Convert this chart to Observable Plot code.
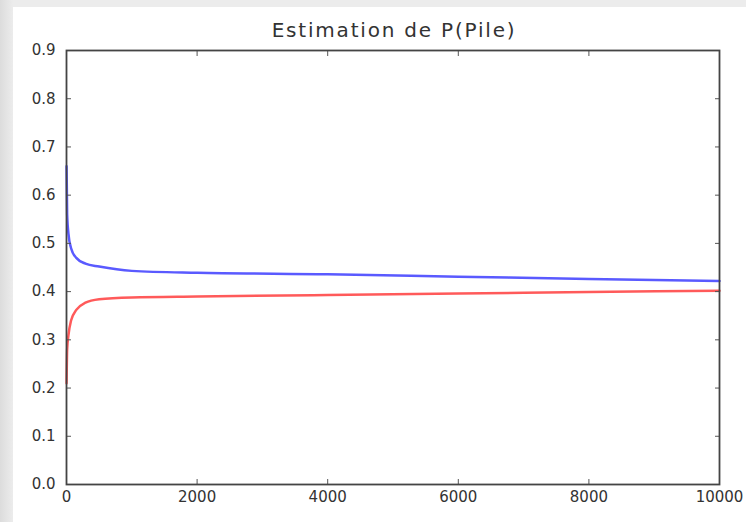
<!DOCTYPE html>
<html>
<head>
<meta charset="utf-8">
<script src="https://cdn.jsdelivr.net/npm/d3@7"></script>
<script src="https://cdn.jsdelivr.net/npm/@observablehq/plot@0.6"></script>
<style>
  html, body { margin: 0; padding: 0; background: #ebebeb; }
  #wrap { width: 746px; height: 522px; box-sizing: border-box; padding-left: 13px; padding-top: 7px;
          background: linear-gradient(90deg, #dcdcdc 0px, #ececec 13px); }
  #wrap svg { background: #ffffff; display: block; }
  #wrap svg g[aria-label="text"] text { letter-spacing: 1.8px; }
</style>
</head>
<body>
<div id="wrap"></div>
<script>
const title = "Estimation de P(Pile)";
const xs    = [1, 10, 30, 70, 150, 290, 500, 1000, 2000, 4000, 6000, 8000, 10000];
const blue  = [0.66, 0.56, 0.52, 0.49, 0.47, 0.458, 0.452, 0.443, 0.439, 0.436, 0.431, 0.426, 0.422];
const red   = [0.21, 0.28, 0.31, 0.34, 0.362, 0.377, 0.384, 0.388, 0.390, 0.393, 0.396, 0.399, 0.402];
const xTicks = [0, 2000, 4000, 6000, 8000, 10000];
const yTicks = [0, 0.1, 0.2, 0.3, 0.4, 0.5, 0.6, 0.7, 0.8, 0.9];

const blueData = xs.map((x, i) => ({x, y: blue[i]}));
const redData  = xs.map((x, i) => ({x, y: red[i]}));

const font = "DejaVu Sans, sans-serif";
const chart = Plot.plot({
  width: 733,
  height: 515,
  marginLeft: 53,
  marginRight: 27,
  marginTop: 43,
  marginBottom: 38,
  style: { fontFamily: font, fontSize: "15px", color: "#333", background: "#fff" },
  x: { domain: [0, 10000] },
  y: { domain: [0, 0.9] },
  marks: [
    Plot.line(blueData, {x: "x", y: "y", stroke: "#5a5aff", strokeWidth: 2.5, curve: "monotone-x"}),
    Plot.line(redData, {x: "x", y: "y", stroke: "#ff5a5a", strokeWidth: 2.5, curve: "monotone-x"}),
    Plot.axisX({ticks: xTicks, tickSize: 0, tickPadding: 7, tickFormat: d3.format("d"), label: null, fontSize: 15}),
    Plot.axisX({ticks: xTicks, anchor: "bottom", tickSize: -5, tickFormat: () => "", label: null, stroke: "#555"}),
    Plot.axisX({ticks: xTicks, anchor: "top", tickSize: -5, tickFormat: () => "", label: null, stroke: "#555"}),
    Plot.axisY({ticks: yTicks, tickSize: 0, tickPadding: 11, tickFormat: d3.format(".1f"), label: null, fontSize: 15}),
    Plot.axisY({ticks: yTicks, anchor: "left", tickSize: -5, tickFormat: () => "", label: null, stroke: "#555"}),
    Plot.axisY({ticks: yTicks, anchor: "right", tickSize: -5, tickFormat: () => "", label: null, stroke: "#555"}),
    Plot.frame({stroke: "#444", strokeWidth: 1.8}),
    Plot.text([title], {frameAnchor: "top", dy: -20, dx: 1, lineAnchor: "middle", fontSize: 20, fill: "#333"})
  ]
});
document.getElementById("wrap").appendChild(chart);
</script>
</body>
</html>
